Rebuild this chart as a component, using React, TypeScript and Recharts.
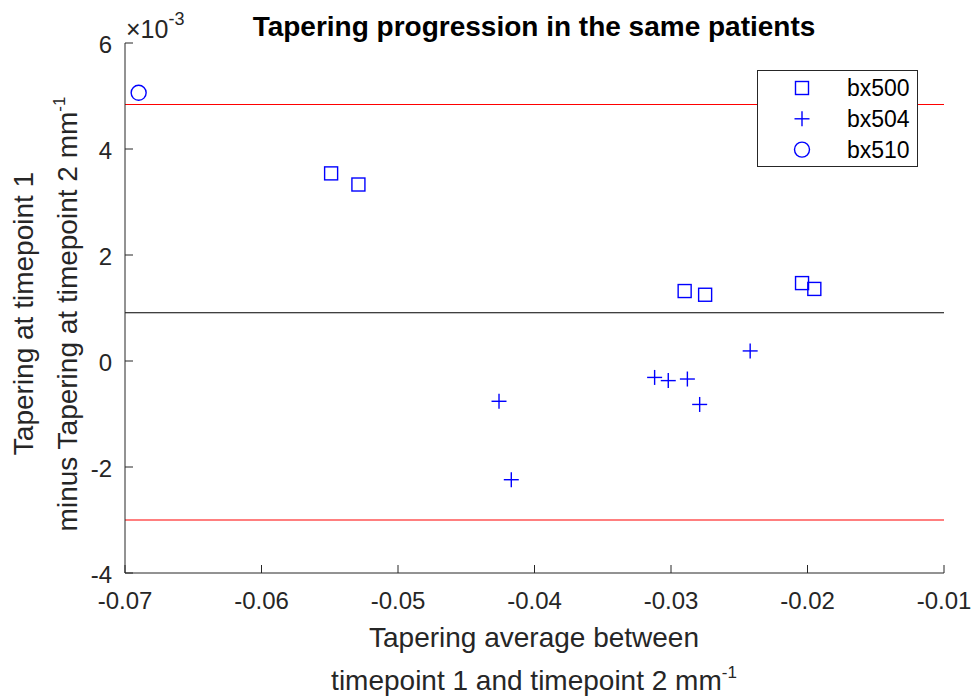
import React from 'react';
import { ScatterChart, Scatter, XAxis, YAxis, ReferenceLine } from 'recharts';

// values of the y series are in units of 1e-3
const xTicks = [-0.07, -0.06, -0.05, -0.04, -0.03, -0.02, -0.01];
const yTicks = [-4, -2, 0, 2, 4, 6];

const bx500X = [-0.0549, -0.0529, -0.029, -0.0275, -0.0204, -0.0195];
const bx500Y = [3.54, 3.33, 1.32, 1.25, 1.47, 1.36];

const bx504X = [-0.0426, -0.0417, -0.0312, -0.0302, -0.0288, -0.0279, -0.0242];
const bx504Y = [-0.76, -2.24, -0.31, -0.37, -0.34, -0.82, 0.19];

const bx510X = [-0.069];
const bx510Y = [5.06];

const meanDiff = 0.91;
const upperLimit = 4.84;
const lowerLimit = -3.0;

const seriesNames = ['bx500', 'bx504', 'bx510'];

const toPoints = (xs: number[], ys: number[]) => xs.map((x, i) => ({ x, y: ys[i] }));
const bx500 = toPoints(bx500X, bx500Y);
const bx504 = toPoints(bx504X, bx504Y);
const bx510 = toPoints(bx510X, bx510Y);

const BLUE = '#0000ff';
const AXIS = '#262626';
const FONT = '"Liberation Sans", Arial, Helvetica, sans-serif';

const SquareShape = (p: any) => (
  <rect x={p.cx - 6.5} y={p.cy - 6.5} width={13} height={13} fill="none" stroke={BLUE} strokeWidth={1.4} />
);
const PlusShape = (p: any) => (
  <g stroke={BLUE} strokeWidth={1.4}>
    <line x1={p.cx - 7.5} y1={p.cy} x2={p.cx + 7.5} y2={p.cy} />
    <line x1={p.cx} y1={p.cy - 7.5} x2={p.cx} y2={p.cy + 7.5} />
  </g>
);
const CircleShape = (p: any) => (
  <circle cx={p.cx} cy={p.cy} r={7.5} fill="none" stroke={BLUE} strokeWidth={1.4} />
);

const legendIcon = (i: number, cx: number, cy: number) => {
  if (i === 0) return <SquareShape cx={cx} cy={cy} />;
  if (i === 1) return <PlusShape cx={cx} cy={cy} />;
  return <CircleShape cx={cx} cy={cy} />;
};

const LegendBox = () => (
  <div style={{ position: 'absolute', left: 757, top: 70, width: 161, height: 97 }}>
    <svg width={161} height={97} style={{ display: 'block' }}>
      <rect x={0.5} y={0.5} width={160} height={96} fill="#fff" stroke={AXIS} strokeWidth={1} />
      {seriesNames.map((n, i) => {
        const cy = 18 + i * 30.8;
        return (
          <g key={n}>
            {legendIcon(i, 45, cy)}
            <text x={90} y={cy + 8} fontSize={23} fill="#000" fontFamily={FONT}>
              {n}
            </text>
          </g>
        );
      })}
    </svg>
  </div>
);

export default function App() {
  return (
    <div style={{ position: 'absolute', left: 0, top: 0, width: 972, height: 697, background: '#fff', fontFamily: FONT }}>
      <ScatterChart width={972} height={697} margin={{ top: 43, right: 28, bottom: 64, left: 0 }}>
        <XAxis
          type="number"
          dataKey="x"
          domain={[-0.07, -0.01]}
          ticks={xTicks}
          allowDataOverflow
          height={60}
          tickSize={-8}
          tickMargin={27}
          axisLine={{ stroke: AXIS, strokeWidth: 1 }}
          tickLine={{ stroke: AXIS, strokeWidth: 1 }}
          tick={{ fontSize: 24, fill: AXIS, fontFamily: FONT }}
        />
        <YAxis
          type="number"
          dataKey="y"
          domain={[-4, 6]}
          ticks={yTicks}
          allowDataOverflow
          width={125}
          tickSize={-8}
          tickMargin={21}
          axisLine={{ stroke: AXIS, strokeWidth: 1 }}
          tickLine={{ stroke: AXIS, strokeWidth: 1 }}
          tick={{ fontSize: 24, fill: AXIS, fontFamily: FONT, dy: 1 }}
        />
        <ReferenceLine y={upperLimit} stroke="#ff0000" strokeWidth={1.2} />
        <ReferenceLine y={meanDiff} stroke="#000000" strokeWidth={1.2} />
        <ReferenceLine y={lowerLimit} stroke="#ff0000" strokeWidth={1.2} />
        <Scatter name={seriesNames[0]} data={bx500} shape={SquareShape} isAnimationActive={false} />
        <Scatter name={seriesNames[1]} data={bx504} shape={PlusShape} isAnimationActive={false} />
        <Scatter name={seriesNames[2]} data={bx510} shape={CircleShape} isAnimationActive={false} />
      </ScatterChart>
      <svg width={972} height={697} style={{ position: 'absolute', left: 0, top: 0, pointerEvents: 'none' }} fontFamily={FONT}>
        <text x={534} y={36} textAnchor="middle" fontSize={28} fontWeight="bold" fill="#000">
          Tapering progression in the same patients
        </text>
        <text x={126} y={38} fontSize={25} fill={AXIS}>
          ×10
          <tspan dy={-13} fontSize={18}>-3</tspan>
        </text>
        <text transform="translate(33,313.5) rotate(-90)" textAnchor="middle" fontSize={28} fill={AXIS}>
          Tapering at timepoint 1
        </text>
        <text transform="translate(77,314) rotate(-90)" textAnchor="middle" fontSize={28} fill={AXIS}>
          minus Tapering at timepoint 2 mm
          <tspan dy={-12} fontSize={17}>-1</tspan>
        </text>
        <text x={534} y={647} textAnchor="middle" fontSize={28} fill={AXIS}>
          Tapering average between
        </text>
        <text x={534} y={690} textAnchor="middle" fontSize={28} fill={AXIS}>
          timepoint 1 and timepoint 2 mm
          <tspan dy={-12} fontSize={17}>-1</tspan>
        </text>
      </svg>
      <LegendBox />
    </div>
  );
}
